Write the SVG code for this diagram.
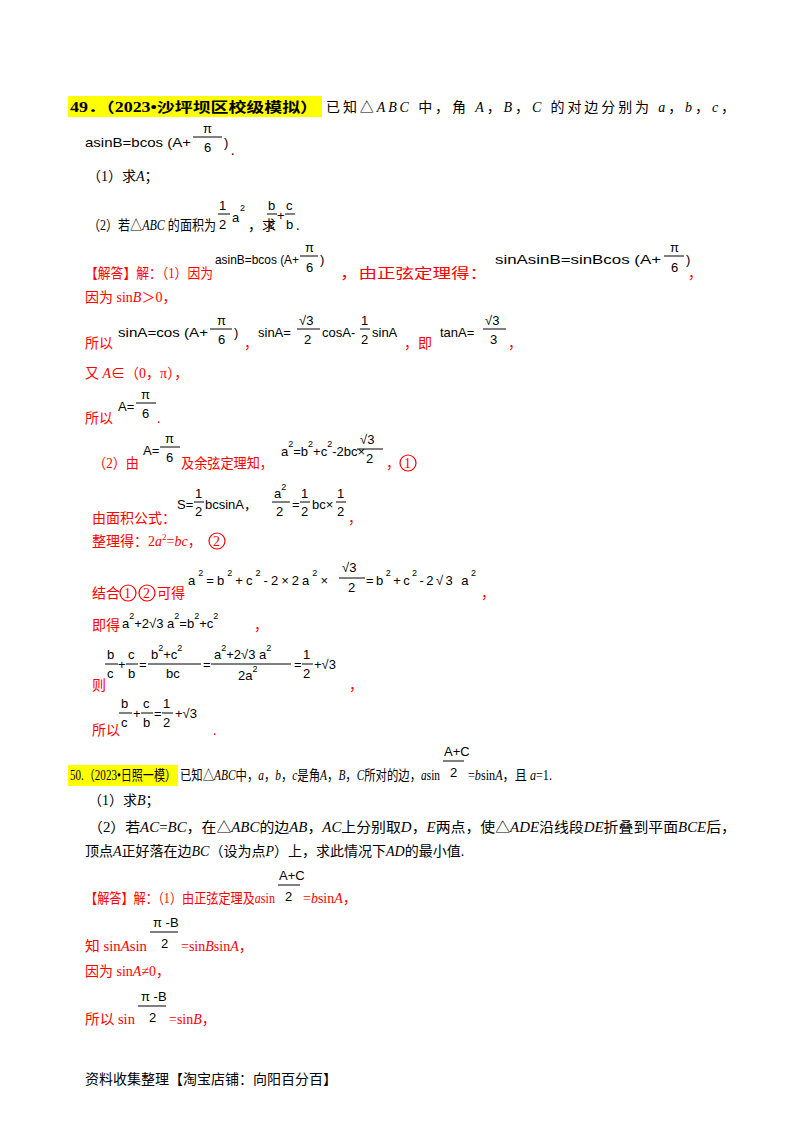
<svg xmlns="http://www.w3.org/2000/svg" width="800" height="1132" viewBox="0 0 800 1132">
<style>
text{font-family:"Liberation Serif","Noto Sans CJK SC",serif;font-size:14px;fill:#000}
.r{fill:#f00}
.m{font-family:"Liberation Sans","Noto Sans CJK SC",sans-serif;font-size:13px}
.b{font-weight:bold}
.s{font-size:9px}
line{stroke:#000;stroke-width:1}
</style>
<rect width="800" height="1132" fill="#fff"/>
<rect x="68" y="96" width="254" height="21" fill="#ffff00"/>
<text x="70" y="112" class="b" textLength="248" lengthAdjust="spacingAndGlyphs">49．（2023•沙坪坝区校级模拟）</text>
<text x="326" y="112" textLength="409">已知△<tspan font-style="italic">ABC</tspan> 中，角 <tspan font-style="italic">A</tspan>，<tspan font-style="italic">B</tspan>，<tspan font-style="italic">C</tspan> 的对边分别为 <tspan font-style="italic">a</tspan>，<tspan font-style="italic">b</tspan>，<tspan font-style="italic">c</tspan>，</text>
<text x="85" y="147" class="m" textLength="106" lengthAdjust="spacingAndGlyphs">asinB=bcos (A+</text>
<line x1="193" y1="137" x2="222" y2="137"/><text x="203" y="133" class="m">π</text><text x="204" y="152" class="m">6</text>
<text x="224" y="147" class="m">)</text><text x="231" y="155">.</text>
<text x="87" y="181">（1）求<tspan font-style="italic">A</tspan>；</text>
<text x="88" y="230" textLength="128" lengthAdjust="spacingAndGlyphs">（2）若△<tspan font-style="italic">ABC</tspan> 的面积为</text>
<line x1="218" y1="214" x2="230" y2="214"/><text x="219" y="210" class="m">1</text><text x="219" y="229" class="m">2</text>
<text x="232" y="222" class="m">a</text><text x="240" y="211" class="s m">2</text>
<text x="248" y="230">，求</text>
<line x1="267" y1="214" x2="277" y2="214"/><text x="268" y="210" class="m">b</text><text x="268" y="229" class="m">c</text>
<text x="277" y="220" class="m">+</text>
<line x1="285" y1="214" x2="295" y2="214"/><text x="286" y="210" class="m">c</text><text x="286" y="229" class="m">b</text>
<text x="296" y="230">.</text>
<text x="85" y="278" class="r" textLength="128" lengthAdjust="spacingAndGlyphs">【解答】解：（1）因为</text>
<text x="215" y="264" class="m" textLength="84" lengthAdjust="spacingAndGlyphs">asinB=bcos (A+</text>
<line x1="300" y1="256" x2="318" y2="256"/><text x="305" y="252" class="m">π</text><text x="306" y="272" class="m">6</text>
<text x="320" y="264" class="m">)</text>
<text x="340" y="278" class="r" textLength="148" lengthAdjust="spacingAndGlyphs">，由正弦定理得：</text>
<text x="495" y="264" class="m" textLength="166" lengthAdjust="spacingAndGlyphs">sinAsinB=sinBcos (A+</text>
<line x1="664" y1="256" x2="684" y2="256"/><text x="670" y="252" class="m">π</text><text x="671" y="272" class="m">6</text>
<text x="686" y="264" class="m">)</text><text x="688" y="278" class="r">，</text>
<text x="85" y="302" class="r">因为 sin<tspan font-style="italic">B</tspan>＞0，</text>
<text x="85" y="348" class="r">所以</text>
<text x="118" y="337" class="m" textLength="90" lengthAdjust="spacingAndGlyphs">sinA=cos (A+</text>
<line x1="210" y1="329" x2="232" y2="329"/><text x="217" y="325" class="m">π</text><text x="218" y="344" class="m">6</text>
<text x="234" y="337" class="m">)</text>
<text x="244" y="348" class="r">，</text>
<text x="258" y="337" class="m">sinA=</text>
<line x1="297" y1="329" x2="320" y2="329"/><text x="299" y="325" class="m">√3</text><text x="304" y="344" class="m">2</text>
<text x="322" y="337" class="m">cosA-</text>
<line x1="360" y1="329" x2="370" y2="329"/><text x="361" y="325" class="m">1</text><text x="361" y="344" class="m">2</text>
<text x="372" y="337" class="m">sinA</text>
<text x="404" y="348" class="r">，即</text>
<text x="440" y="337" class="m">tanA=</text>
<line x1="483" y1="329" x2="506" y2="329"/><text x="485" y="325" class="m">√3</text><text x="490" y="344" class="m">3</text>
<text x="508" y="348" class="r">，</text>
<text x="85" y="378" class="r">又 <tspan font-style="italic">A</tspan>∈（0，π），</text>
<text x="85" y="423" class="r">所以</text>
<text x="118" y="411" class="m">A=</text>
<line x1="136" y1="403" x2="156" y2="403"/><text x="141" y="399" class="m">π</text><text x="142" y="418" class="m">6</text>
<text x="157" y="423" class="r">.</text>
<text x="93" y="468" class="r" textLength="46" lengthAdjust="spacingAndGlyphs">（2）由</text>
<text x="143" y="455" class="m">A=</text>
<line x1="160" y1="447" x2="180" y2="447"/><text x="165" y="443" class="m">π</text><text x="166" y="462" class="m">6</text>
<text x="181" y="468" class="r" textLength="92" lengthAdjust="spacingAndGlyphs">及余弦定理知，</text>
<text x="281" y="456" class="m">a<tspan class="s" dy="-9">2</tspan><tspan dy="9">=b</tspan><tspan class="s" dy="-9">2</tspan><tspan dy="9">+c</tspan><tspan class="s" dy="-9">2</tspan><tspan dy="9">-2bc×</tspan></text>
<line x1="357" y1="449" x2="383" y2="449"/><text x="360" y="444" class="m">√3</text><text x="366" y="463" class="m">2</text>
<text x="386" y="468" class="r">，</text>
<circle cx="408" cy="463" r="8" fill="none" stroke="#f00" stroke-width="1.2"/><text x="404" y="468" class="r">1</text>
<text x="92" y="523" class="r">由面积公式：</text>
<text x="177" y="509" class="m">S=</text>
<line x1="194" y1="502" x2="204" y2="502"/><text x="195" y="498" class="m">1</text><text x="195" y="516" class="m">2</text>
<text x="205" y="509" class="m">bcsinA，</text>
<line x1="272" y1="502" x2="290" y2="502"/><text x="274" y="498" class="m">a<tspan class="s" dy="-8">2</tspan></text><text x="276" y="516" class="m">2</text>
<text x="292" y="509" class="m">=</text>
<line x1="300" y1="502" x2="310" y2="502"/><text x="301" y="498" class="m">1</text><text x="301" y="516" class="m">2</text>
<text x="312" y="509" class="m">bc×</text>
<line x1="336" y1="502" x2="346" y2="502"/><text x="337" y="498" class="m">1</text><text x="337" y="516" class="m">2</text>
<text x="348" y="523" class="r">，</text>
<text x="92" y="546" class="r">整理得：2<tspan font-style="italic">a</tspan><tspan class="s" dy="-6">2</tspan><tspan dy="6">=</tspan><tspan font-style="italic">bc</tspan>，</text>
<circle cx="217" cy="541" r="8" fill="none" stroke="#f00" stroke-width="1.2"/><text x="213" y="546" class="r">2</text>
<text x="92" y="598" class="r">结合</text>
<circle cx="128" cy="593" r="8" fill="none" stroke="#f00" stroke-width="1.2"/><text x="124" y="598" class="r">1</text>
<circle cx="147" cy="593" r="8" fill="none" stroke="#f00" stroke-width="1.2"/><text x="143" y="598" class="r">2</text>
<text x="157" y="598" class="r">可得</text>
<text x="188" y="585" class="m" textLength="140">a<tspan class="s" dy="-9">2</tspan><tspan dy="9">=b</tspan><tspan class="s" dy="-9">2</tspan><tspan dy="9">+c</tspan><tspan class="s" dy="-9">2</tspan><tspan dy="9">-2×2a</tspan><tspan class="s" dy="-9">2</tspan><tspan dy="9">×</tspan></text>
<line x1="339" y1="578" x2="365" y2="578"/><text x="342" y="572" class="m">√3</text><text x="348" y="592" class="m">2</text>
<text x="366" y="585" class="m" textLength="110">=b<tspan class="s" dy="-9">2</tspan><tspan dy="9">+c</tspan><tspan class="s" dy="-9">2</tspan><tspan dy="9">-2√3 a</tspan><tspan class="s" dy="-9">2</tspan></text>
<text x="481" y="598" class="r">，</text>
<text x="92" y="630" class="r">即得</text>
<text x="122" y="628" class="m">a<tspan class="s" dy="-9">2</tspan><tspan dy="9">+2√3 a</tspan><tspan class="s" dy="-9">2</tspan><tspan dy="9">=b</tspan><tspan class="s" dy="-9">2</tspan><tspan dy="9">+c</tspan><tspan class="s" dy="-9">2</tspan></text>
<text x="254" y="630" class="r">，</text>
<text x="92" y="690" class="r">则</text>
<line x1="105" y1="664" x2="118" y2="664"/><text x="107" y="659" class="m">b</text><text x="107" y="678" class="m">c</text>
<text x="118" y="669" class="m">+</text>
<line x1="126" y1="664" x2="138" y2="664"/><text x="128" y="659" class="m">c</text><text x="128" y="678" class="m">b</text>
<text x="139" y="669" class="m">=</text>
<line x1="148" y1="664" x2="201" y2="664"/><text x="151" y="659" class="m">b<tspan class="s" dy="-8">2</tspan><tspan dy="8">+c</tspan><tspan class="s" dy="-8">2</tspan></text><text x="166" y="678" class="m">bc</text>
<text x="203" y="669" class="m">=</text>
<line x1="211" y1="664" x2="291" y2="664"/><text x="214" y="659" class="m">a<tspan class="s" dy="-8">2</tspan><tspan dy="8">+2√3 a</tspan><tspan class="s" dy="-8">2</tspan></text><text x="238" y="680" class="m">2a<tspan class="s" dy="-8">2</tspan></text>
<text x="294" y="669" class="m">=</text>
<line x1="302" y1="664" x2="313" y2="664"/><text x="303" y="659" class="m">1</text><text x="303" y="678" class="m">2</text>
<text x="314" y="669" class="m">+√3</text>
<text x="349" y="690" class="r">，</text>
<text x="92" y="735" class="r">所以</text>
<line x1="119" y1="713" x2="132" y2="713"/><text x="121" y="708" class="m">b</text><text x="121" y="727" class="m">c</text>
<text x="133" y="718" class="m">+</text>
<line x1="141" y1="713" x2="153" y2="713"/><text x="143" y="708" class="m">c</text><text x="143" y="727" class="m">b</text>
<text x="154" y="718" class="m">=</text>
<line x1="162" y1="713" x2="173" y2="713"/><text x="163" y="708" class="m">1</text><text x="163" y="727" class="m">2</text>
<text x="175" y="718" class="m">+√3</text>
<text x="213" y="735" class="r">.</text>
<rect x="68" y="765" width="110" height="21" fill="#ffff00"/>
<text x="70" y="780" textLength="106" lengthAdjust="spacingAndGlyphs">50.（2023•日照一模）</text>
<text x="180" y="780" textLength="260" lengthAdjust="spacingAndGlyphs">已知△<tspan font-style="italic">ABC</tspan>中，<tspan font-style="italic">a</tspan>，<tspan font-style="italic">b</tspan>，<tspan font-style="italic">c</tspan>是角<tspan font-style="italic">A</tspan>，<tspan font-style="italic">B</tspan>，<tspan font-style="italic">C</tspan>所对的边，<tspan font-style="italic">a</tspan>sin</text>
<line x1="443" y1="761" x2="464" y2="761"/><text x="444" y="756" class="m" font-size="11">A+C</text><text x="450" y="777" class="m">2</text>
<text x="468" y="780" textLength="84" lengthAdjust="spacingAndGlyphs">=<tspan font-style="italic">b</tspan>sin<tspan font-style="italic">A</tspan>，且 <tspan font-style="italic">a</tspan>=1.</text>
<text x="88" y="805">（1）求<tspan font-style="italic">B</tspan>；</text>
<text x="88" y="832" textLength="648" lengthAdjust="spacingAndGlyphs">（2）若<tspan font-style="italic">AC</tspan>=<tspan font-style="italic">BC</tspan>，在△<tspan font-style="italic">ABC</tspan>的边<tspan font-style="italic">AB</tspan>，<tspan font-style="italic">AC</tspan>上分别取<tspan font-style="italic">D</tspan>，<tspan font-style="italic">E</tspan>两点，使△<tspan font-style="italic">ADE</tspan>沿线段<tspan font-style="italic">DE</tspan>折叠到平面<tspan font-style="italic">BCE</tspan>后，</text>
<text x="85" y="856">顶点<tspan font-style="italic">A</tspan>正好落在边<tspan font-style="italic">BC</tspan>（设为点<tspan font-style="italic">P</tspan>）上，求此情况下<tspan font-style="italic">AD</tspan>的最小值.</text>
<text x="85" y="903" class="r" textLength="190" lengthAdjust="spacingAndGlyphs">【解答】解：（1）由正弦定理及<tspan font-style="italic">a</tspan>sin</text>
<line x1="278" y1="885" x2="300" y2="885"/><text x="279" y="880" class="m" font-size="11">A+C</text><text x="285" y="901" class="m">2</text>
<text x="303" y="903" class="r">=<tspan font-style="italic">b</tspan>sin<tspan font-style="italic">A</tspan>，</text>
<text x="85" y="951" class="r" textLength="62" lengthAdjust="spacingAndGlyphs">知 sin<tspan font-style="italic">A</tspan>sin</text>
<line x1="150" y1="932" x2="178" y2="932"/><text x="153" y="927" class="m">π -B</text><text x="161" y="948" class="m">2</text>
<text x="181" y="951" class="r">=sin<tspan font-style="italic">B</tspan>sin<tspan font-style="italic">A</tspan>，</text>
<text x="85" y="976" class="r">因为 sin<tspan font-style="italic">A</tspan>≠0，</text>
<text x="85" y="1024" class="r" textLength="50" lengthAdjust="spacingAndGlyphs">所以 sin</text>
<line x1="138" y1="1006" x2="166" y2="1006"/><text x="141" y="1001" class="m">π -B</text><text x="149" y="1022" class="m">2</text>
<text x="169" y="1024" class="r">=sin<tspan font-style="italic">B</tspan>，</text>
<text x="85" y="1084" font-size="12">资料收集整理【淘宝店铺：向阳百分百】</text>
</svg>
